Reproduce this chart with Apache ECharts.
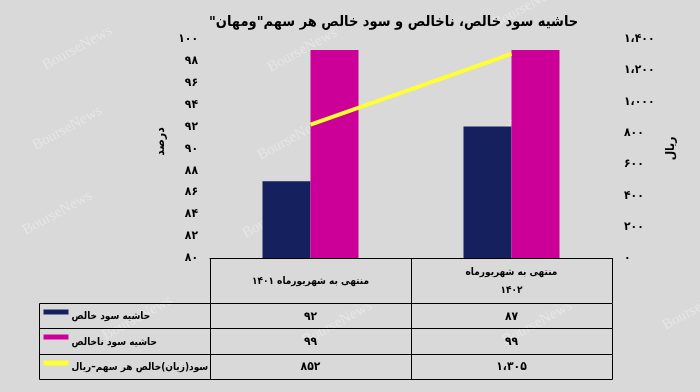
<!DOCTYPE html>
<html><head><meta charset="utf-8">
<script src="https://cdn.jsdelivr.net/npm/echarts@6/dist/echarts.min.js"></script>
<style>html,body{margin:0;padding:0;background:#d9d9d9}#c{width:700px;height:392px;direction:rtl}</style>
</head><body><div id="c"></div>
<script>
// ---- data ----
const titleText = 'حاشیه سود خالص، ناخالص و سود خالص هر سهم"ومهان"';
const categories = ['منتهی به شهریورماه ۱۴۰۱', 'منتهی به شهریورماه\n۱۴۰۲'];
const seriesNames = ['حاشیه سود خالص', 'حاشیه سود ناخالص', 'سود(زیان)خالص هر سهم–ریال'];
const netMargin = [87, 92];        // navy bars (percent)
const grossMargin = [99, 99];      // magenta bars (percent)
const epsRial = [852, 1305];       // yellow line (rial)
const tableNet = [92, 87];         // table row texts as printed
const tableGross = [99, 99];
const tableEps = [852, 1305];
const leftAxisName = 'درصد';
const rightAxisName = 'ریال';
const leftMin = 80, leftMax = 100, leftStep = 2;
const rightMin = 0, rightMax = 1400, rightStep = 200;
const watermark = 'BourseNews';

// ---- helpers ----
function fa(n) {
  const s = String(n).replace(/\B(?=(\d{3})+(?!\d))/g, '،');
  return s.replace(/\d/g, d => '۰۱۲۳۴۵۶۷۸۹'[+d]);
}
const tableRows = [tableNet, tableGross, tableEps];
const colors = ['#14215e', '#cc0099', '#ffff33'];
const FONT = 'DejaVu Sans Condensed, DejaVu Sans';
const labelW = 171;

const wmPos = [[40,60],[265,62],[490,18],[30,140],[255,150],[470,140],[20,225],[240,228],[470,225],[100,330],[300,335],[500,335],[660,320]];

const chart = echarts.init(document.getElementById('c'));
chart.setOption({
  backgroundColor: '#d9d9d9',
  animation: false,
  title: {
    text: titleText, left: 204, top: 10,
    textStyle: {fontFamily: FONT, fontWeight: 'bold', fontSize: 14.5, color: '#000'}
  },
  graphic: wmPos.map(p => ({
    type: 'text', x: p[0], y: p[1], rotation: 0.5, z: 0, silent: true,
    style: {text: watermark, fontFamily: 'Liberation Serif', fontSize: 15, fill: 'rgba(255,255,255,0.35)'}
  })),
  grid: [
    {left: 210, right: 88, top: 39, bottom: 134},
    {left: 210, right: 88, top: 303, bottom: 13}
  ],
  xAxis: [
    {type: 'category', gridIndex: 0, data: categories,
     axisLine: {show: true, lineStyle: {color: '#000', width: 1}},
     axisTick: {show: true, length: 45, lineStyle: {color: '#000', width: 1}},
     axisLabel: {margin: 23, verticalAlign: 'middle', lineHeight: 18, fontFamily: FONT, fontWeight: 'bold', fontSize: 10, color: '#000'}
    },
    {type: 'category', gridIndex: 1, data: [0, 1], show: false}
  ],
  yAxis: [
    {type: 'value', gridIndex: 0, min: leftMin, max: leftMax, interval: leftStep,
     name: leftAxisName, nameLocation: 'middle', nameGap: 40, nameRotate: 90,
     nameTextStyle: {fontFamily: FONT, fontWeight: 'bold', fontSize: 12, color: '#000', padding: [0, 0, 0, 14]},
     axisLine: {show: false}, axisTick: {show: false}, splitLine: {show: false},
     axisLabel: {margin: 12, formatter: v => fa(v), fontFamily: FONT, fontWeight: 'bold', fontSize: 12, color: '#000'}
    },
    {type: 'value', gridIndex: 0, position: 'right', min: rightMin, max: rightMax, interval: rightStep,
     name: rightAxisName, nameLocation: 'middle', nameGap: 52, nameRotate: 90,
     nameTextStyle: {fontFamily: FONT, fontWeight: 'bold', fontSize: 12, color: '#000'},
     axisLine: {show: false}, axisTick: {show: false}, splitLine: {show: false},
     axisLabel: {margin: 12, formatter: v => fa(v), fontFamily: FONT, fontWeight: 'bold', fontSize: 12, color: '#000'}
    },
    {type: 'category', gridIndex: 1, data: [0, 1, 2], inverse: true, show: false}
  ],
  series: [
    {type: 'bar', name: seriesNames[0], data: netMargin, barWidth: 48, barGap: '0%', itemStyle: {color: colors[0]}, z: 2},
    {type: 'bar', name: seriesNames[1], data: grossMargin, barWidth: 48, barGap: '0%', itemStyle: {color: colors[1]}, z: 2},
    {type: 'line', name: seriesNames[2], yAxisIndex: 1, data: epsRial, symbol: 'none',
     lineStyle: {color: colors[2], width: 4}, z: 5},
    {type: 'custom', xAxisIndex: 1, yAxisIndex: 2, data: [[0, 0], [0, 1], [0, 2]], z: 3,
     renderItem: function (params, api) {
       const r = params.dataIndex;
       const sz = api.size([1, 1]);
       const w = sz[0], h = sz[1];
       const children = [];
       const p0 = api.coord([0, r]);
       const top = Math.round(p0[1] - h / 2) + 0.5;
       const hh = Math.round(p0[1] + h / 2) - Math.round(p0[1] - h / 2);
       const left0 = Math.round(p0[0] - w / 2) + 0.5;
       const lineS = {fill: 'none', stroke: '#000', lineWidth: 1};
       children.push({type: 'rect', shape: {x: left0 - labelW, y: top, width: labelW, height: hh}, style: lineS});
       for (let c = 0; c < 2; c++) {
         const p = api.coord([c, r]);
         const lx = Math.round(p[0] - w / 2) + 0.5;
         const rx = Math.round(p[0] + w / 2) + 0.5;
         children.push({type: 'rect', shape: {x: lx, y: top, width: rx - lx, height: hh}, style: lineS});
         children.push({type: 'text', style: {text: fa(tableRows[r][c]), x: p[0], y: p[1] + 1, align: 'center', verticalAlign: 'middle',
           fontFamily: FONT, fontWeight: 'bold', fontSize: 12, fill: '#000'}});
       }
       const cellL = left0 - labelW;
       children.push({type: 'rect', shape: {x: cellL + 4, y: top + 6, width: 25, height: 5}, style: {fill: colors[r]}});
       children.push({type: 'text', style: {text: seriesNames[r], x: cellL + 32, y: p0[1] + 1, align: 'left', verticalAlign: 'middle',
         fontFamily: FONT, fontWeight: 'bold', fontSize: 10, fill: '#000'}});
       return {type: 'group', children: children};
     }
    }
  ]
});
</script>
</body></html>
